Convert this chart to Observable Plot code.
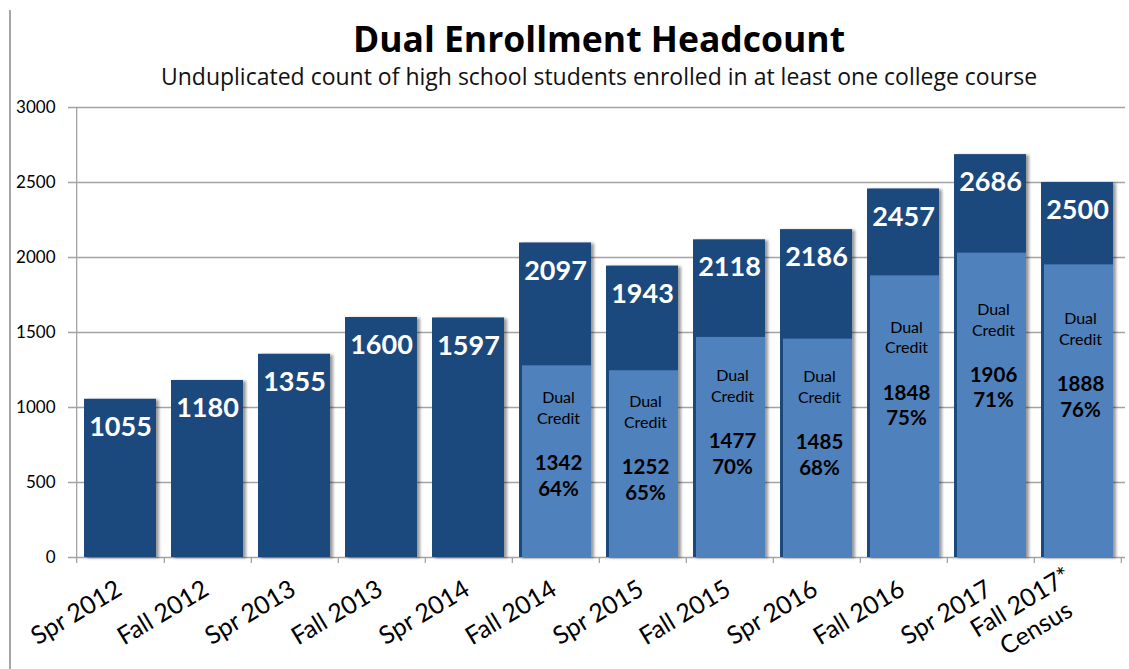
<!DOCTYPE html>
<html><head><meta charset="utf-8">
<script src="https://cdn.jsdelivr.net/npm/d3@7"></script>
<script src="https://cdn.jsdelivr.net/npm/@observablehq/plot@0.6"></script>
<style>
body{margin:0;background:#fff;}
#wrap{position:relative;width:1129px;height:669px;overflow:hidden;font-family:Lato,sans-serif;background:#fff;}
#border{position:absolute;left:9px;top:10px;bottom:0;border-left:2px solid #a6a6a6;}
#title{position:absolute;left:73px;width:1052px;top:21px;text-align:center;font-family:"Open Sans",sans-serif;font-weight:700;font-size:35.5px;line-height:1;color:#000;white-space:nowrap;}
#subtitle{position:absolute;left:73px;width:1052px;top:65px;text-align:center;font-family:"Open Sans",sans-serif;font-size:23px;line-height:1;color:#111;white-space:nowrap;}
#chart{position:absolute;left:0;top:92px;}
</style></head><body>
<div id="wrap">
  <div id="border"></div>
  <div id="title">Dual Enrollment Headcount</div>
  <div id="subtitle">Unduplicated count of high school students enrolled in at least one college course</div>
  <div id="chart"></div>
</div>
<script>
const categories = ["Spr 2012","Fall 2012","Spr 2013","Fall 2013","Spr 2014","Fall 2014","Spr 2015","Fall 2015","Spr 2016","Fall 2016","Spr 2017","Fall 2017"];
const xLabels = ["Spr 2012","Fall 2012","Spr 2013","Fall 2013","Spr 2014","Fall 2014","Spr 2015","Fall 2015","Spr 2016","Fall 2016","Spr 2017","Fall 2017*\nCensus"];
const totals = [1055,1180,1355,1600,1597,2097,1943,2118,2186,2457,2686,2500];
const dualCategories = ["Fall 2014","Spr 2015","Fall 2015","Spr 2016","Fall 2016","Spr 2017","Fall 2017"];
const dualCredit = [1342,1252,1477,1485,1848,1906,1888];
const dualPct = ["64%","65%","70%","68%","75%","71%","76%"];
const dualBar = [1278,1245,1467,1456,1878,2029,1951];
const yTicks = [0,500,1000,1500,2000,2500,3000];

const rows = categories.map((c,i)=>({cat:c, total:totals[i], label:xLabels[i]}));
const dualRows = dualCategories.map((c,i)=>({cat:c, value:dualCredit[i], pct:dualPct[i], bar:dualBar[i]}));

const W=1129, H=577, mL=73, mR=4, mT=15, mB=112;
const step = (W-mL-mR)/categories.length;
const grid = "#a3a3a3";
const dark = "#1F497D", light = "#4F81BD";

const svg = Plot.plot({
  width: W, height: H,
  marginLeft: mL, marginRight: mR, marginTop: mT, marginBottom: mB,
  style: {fontFamily: "Lato, sans-serif", color: "#000", background: "transparent"},
  x: {type: "band", domain: categories, paddingInner: 0.167, paddingOuter: 0.083, axis: null},
  y: {domain: [0, 3000], label: null},
  marks: [
    Plot.ruleY(yTicks, {stroke: grid, strokeWidth: 1.3, insetLeft: -5}),
    Plot.ruleX([categories[0]], {x: d=>d, y1: 3000, y2: 0, dx: -step/2, insetBottom: -6, stroke: grid, strokeWidth: 1.3}),
    Plot.ruleX(categories, {x: d=>d, y1: 0, y2: 0, dx: step/2, insetBottom: -6, stroke: grid, strokeWidth: 1.3}),
    Plot.barY(rows, {x: "cat", y: "total", fill: dark}),
    Plot.barY(dualRows, {x: "cat", y: "bar", fill: light, insetLeft: 3}),
    Plot.text(rows, {x: "cat", y: "total", text: d=>String(d.total), dy: 28, fill: "white", fontWeight: "bold", fontSize: 27}),
    Plot.text(dualRows, {x: "cat", y: d=>d.bar*0.785, text: ()=>"Dual\nCredit", dx: 3, fontSize: 16, lineHeight: 1.3, fill: "#000"}),
    Plot.text(dualRows, {x: "cat", y: d=>d.bar*0.785, text: d=>`${d.value}\n${d.pct}`, dx: 3, dy: 68, fontSize: 20.5, fontWeight: "bold", lineHeight: 1.24, fill: "#000"}),
    Plot.text(rows, {x: "cat", frameAnchor: "bottom", text: "label", rotate: -31, textAnchor: "end", lineAnchor: "middle", dx: -2, dy: 28, fontSize: 25, lineHeight: 1.2, fill: "#000"}),
    Plot.axisY({ticks: yTicks, tickFormat: d=>String(d), tickSize: 0, tickPadding: 18, fontSize: 17, label: null})
  ]
});
document.getElementById("chart").appendChild(svg);

// drop shadow on the columns
const s = d3.select(svg);
const defs = s.insert("defs", ":first-child");
defs.append("filter").attr("id","shadow").attr("x","-10%").attr("y","-10%").attr("width","130%").attr("height","120%")
  .append("feDropShadow").attr("dx",3).attr("dy",1).attr("stdDeviation",1.8)
  .attr("flood-color","#000").attr("flood-opacity",0.4);
const barGroups = s.selectAll('g[aria-label="bar"]').nodes();
if (barGroups[0]) d3.select(barGroups[0]).attr("filter","url(#shadow)");

// center the second line of the multi-line category label
s.selectAll("text").each(function(){
  const ts = this.querySelectorAll("tspan");
  if (ts.length === 2 && this.textContent.includes("Census")) {
    const w1 = ts[0].getComputedTextLength(), w2 = ts[1].getComputedTextLength();
    ts[1].setAttribute("x", -(w1 - w2)/2);
  }
});
</script>
</body></html>
